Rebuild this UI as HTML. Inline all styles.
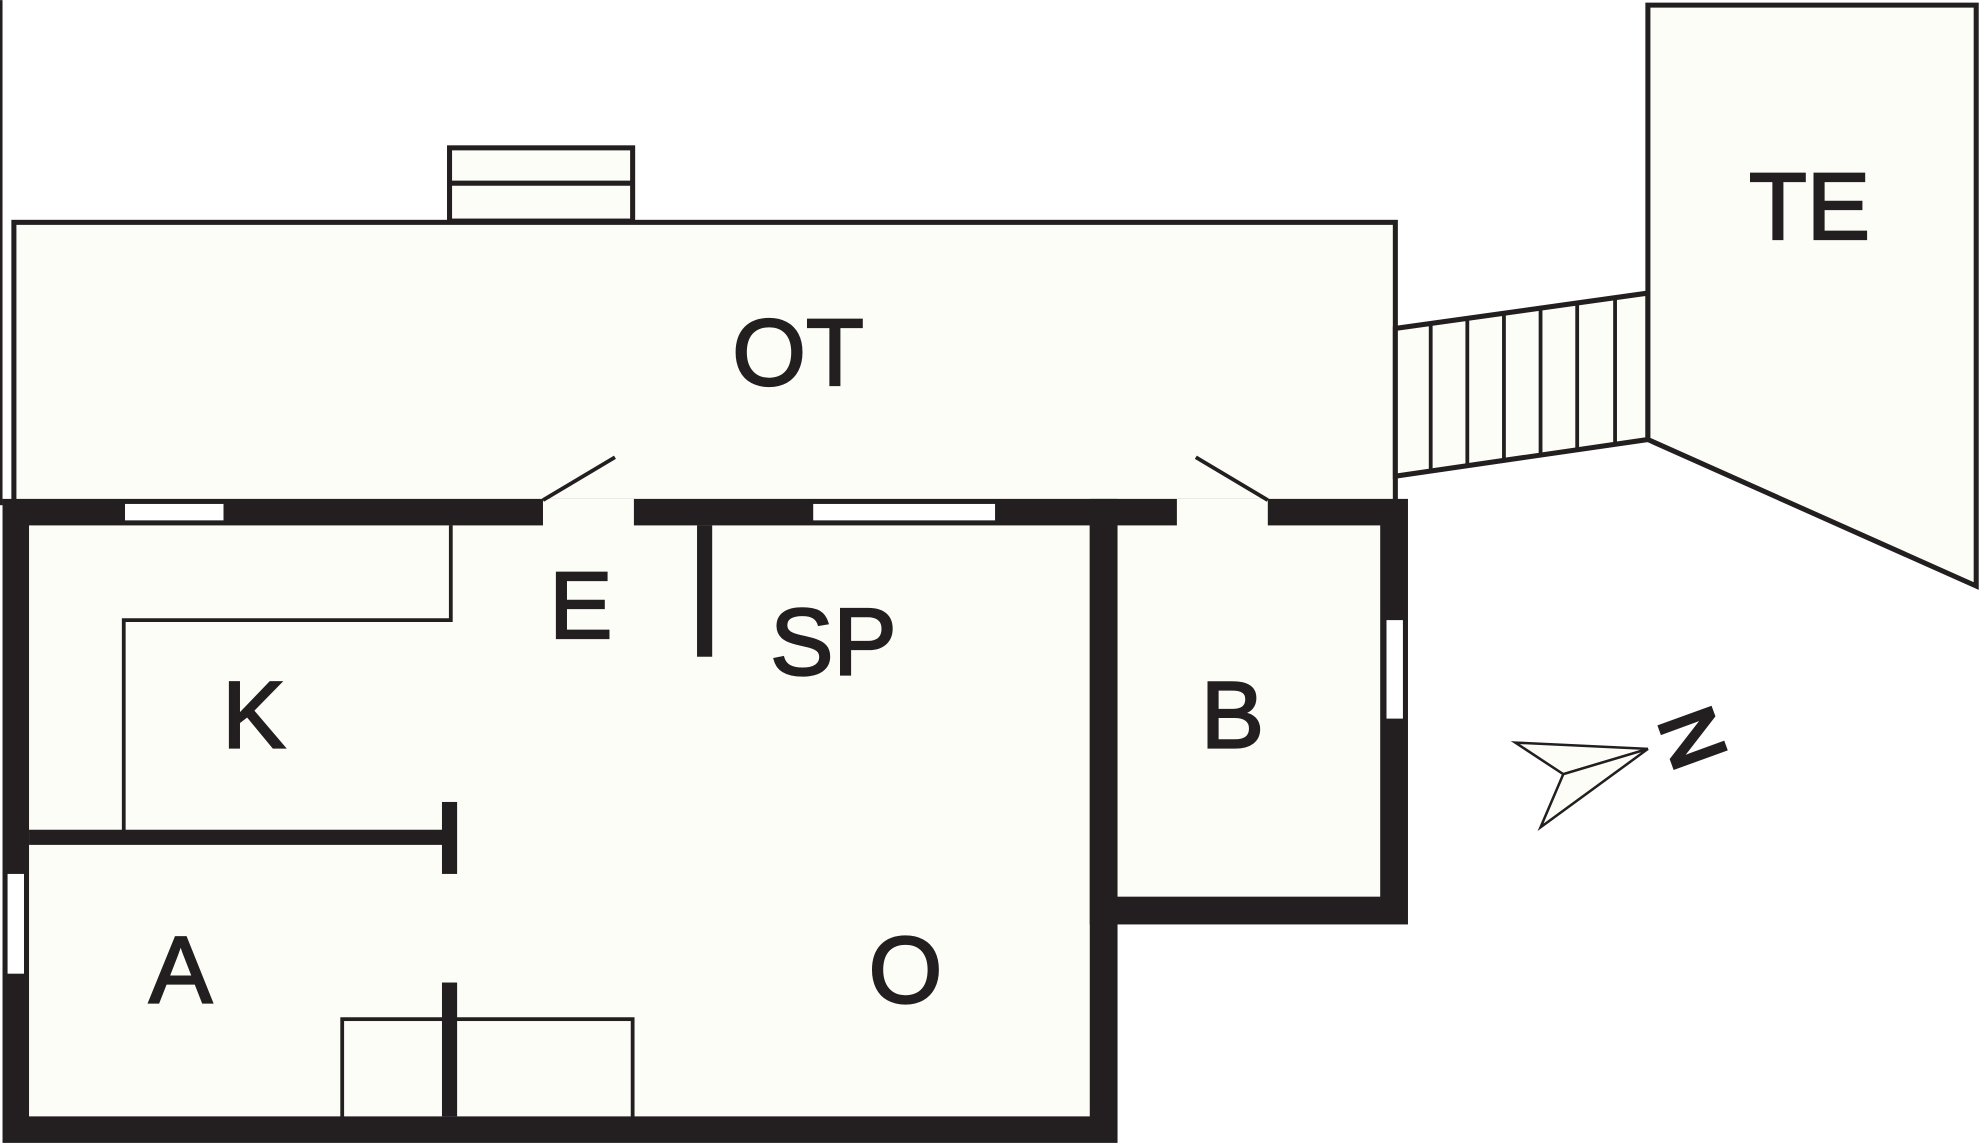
<!DOCTYPE html>
<html><head><style>
html,body{margin:0;padding:0;background:#fff;}
svg{display:block;}
text{font-family:"Liberation Sans",sans-serif;fill:#231f20;}
</style></head><body>
<svg width="1980" height="1143" viewBox="0 0 1568 905" xmlns="http://www.w3.org/2000/svg">
<rect x="0" y="0" width="1568" height="905" fill="#fff"/>
<rect x="0" y="0" width="2" height="400" fill="#231f20"/>
<rect x="356" y="117" width="145" height="58" fill="#fdfdf8" stroke="#231f20" stroke-width="4"/>
<line x1="356" y1="145" x2="501" y2="145" stroke="#231f20" stroke-width="4"/>
<rect x="11" y="176" width="1094" height="222" fill="#fdfdf8" stroke="#231f20" stroke-width="4"/>
<polygon points="1105,260 1305,232 1305,348 1105,377" fill="#fdfdf8" stroke="#231f20" stroke-width="4"/>
<g stroke="#231f20" stroke-width="3">
<line x1="1133" y1="256" x2="1133" y2="373"/>
<line x1="1162" y1="252" x2="1162" y2="369"/>
<line x1="1191" y1="248" x2="1191" y2="365"/>
<line x1="1220" y1="244" x2="1220" y2="361"/>
<line x1="1249" y1="240" x2="1249" y2="357"/>
<line x1="1279" y1="236" x2="1279" y2="352"/>
</g>
<polygon points="1305,4 1565,4 1565,464 1305,348" fill="#fdfdf8" stroke="#231f20" stroke-width="4"/>
<rect x="2" y="395" width="883" height="510" fill="#231f20"/>
<rect x="23" y="416" width="840" height="468" fill="#fdfdf8"/>
<rect x="863" y="395" width="252" height="337" fill="#231f20"/>
<rect x="885" y="416" width="208" height="294" fill="#fdfdf8"/>
<rect x="430" y="395" width="72" height="22" fill="#fdfdf8"/>
<rect x="932" y="395" width="72" height="22" fill="#fdfdf8"/>
<line x1="430" y1="396" x2="487" y2="362" stroke="#231f20" stroke-width="3"/>
<line x1="1004" y1="396" x2="947" y2="362" stroke="#231f20" stroke-width="3"/>
<rect x="99" y="399" width="78" height="13" fill="#fff"/>
<rect x="644" y="399" width="144" height="13" fill="#fff"/>
<rect x="6" y="692" width="13" height="79" fill="#fff"/>
<rect x="1098" y="491" width="13" height="78" fill="#fff"/>
<polyline points="357,416 357,491 98,491 98,659" fill="none" stroke="#231f20" stroke-width="3"/>
<rect x="552" y="416" width="12" height="104" fill="#231f20"/>
<rect x="23" y="657" width="334" height="12" fill="#231f20"/>
<rect x="350" y="635" width="12" height="57" fill="#231f20"/>
<rect x="271" y="807" width="230" height="80" fill="none" stroke="#231f20" stroke-width="3"/>
<rect x="350" y="778" width="12" height="106" fill="#231f20"/>
<g fill="#fdfdf8" stroke="#231f20" stroke-width="2">
<polygon points="1200,588 1305,593 1238,613"/>
<polygon points="1305,593 1220,655 1238,613"/>
</g>
<text x="0" y="0" font-size="62" text-anchor="middle" stroke="#231f20" stroke-width="3" transform="translate(1341,584) rotate(70)" dy="22">N</text>
<g font-size="75" text-anchor="middle" stroke="#231f20" stroke-width="1.8">
<text x="632" y="305">OT</text>
<text x="1433" y="189">TE</text>
<text x="460" y="505">E</text>
<text x="660" y="534">SP</text>
<text x="201" y="592">K</text>
<text x="976" y="592">B</text>
<text x="143" y="794">A</text>
<text x="717" y="794">O</text>
</g>
</svg>
</body></html>
